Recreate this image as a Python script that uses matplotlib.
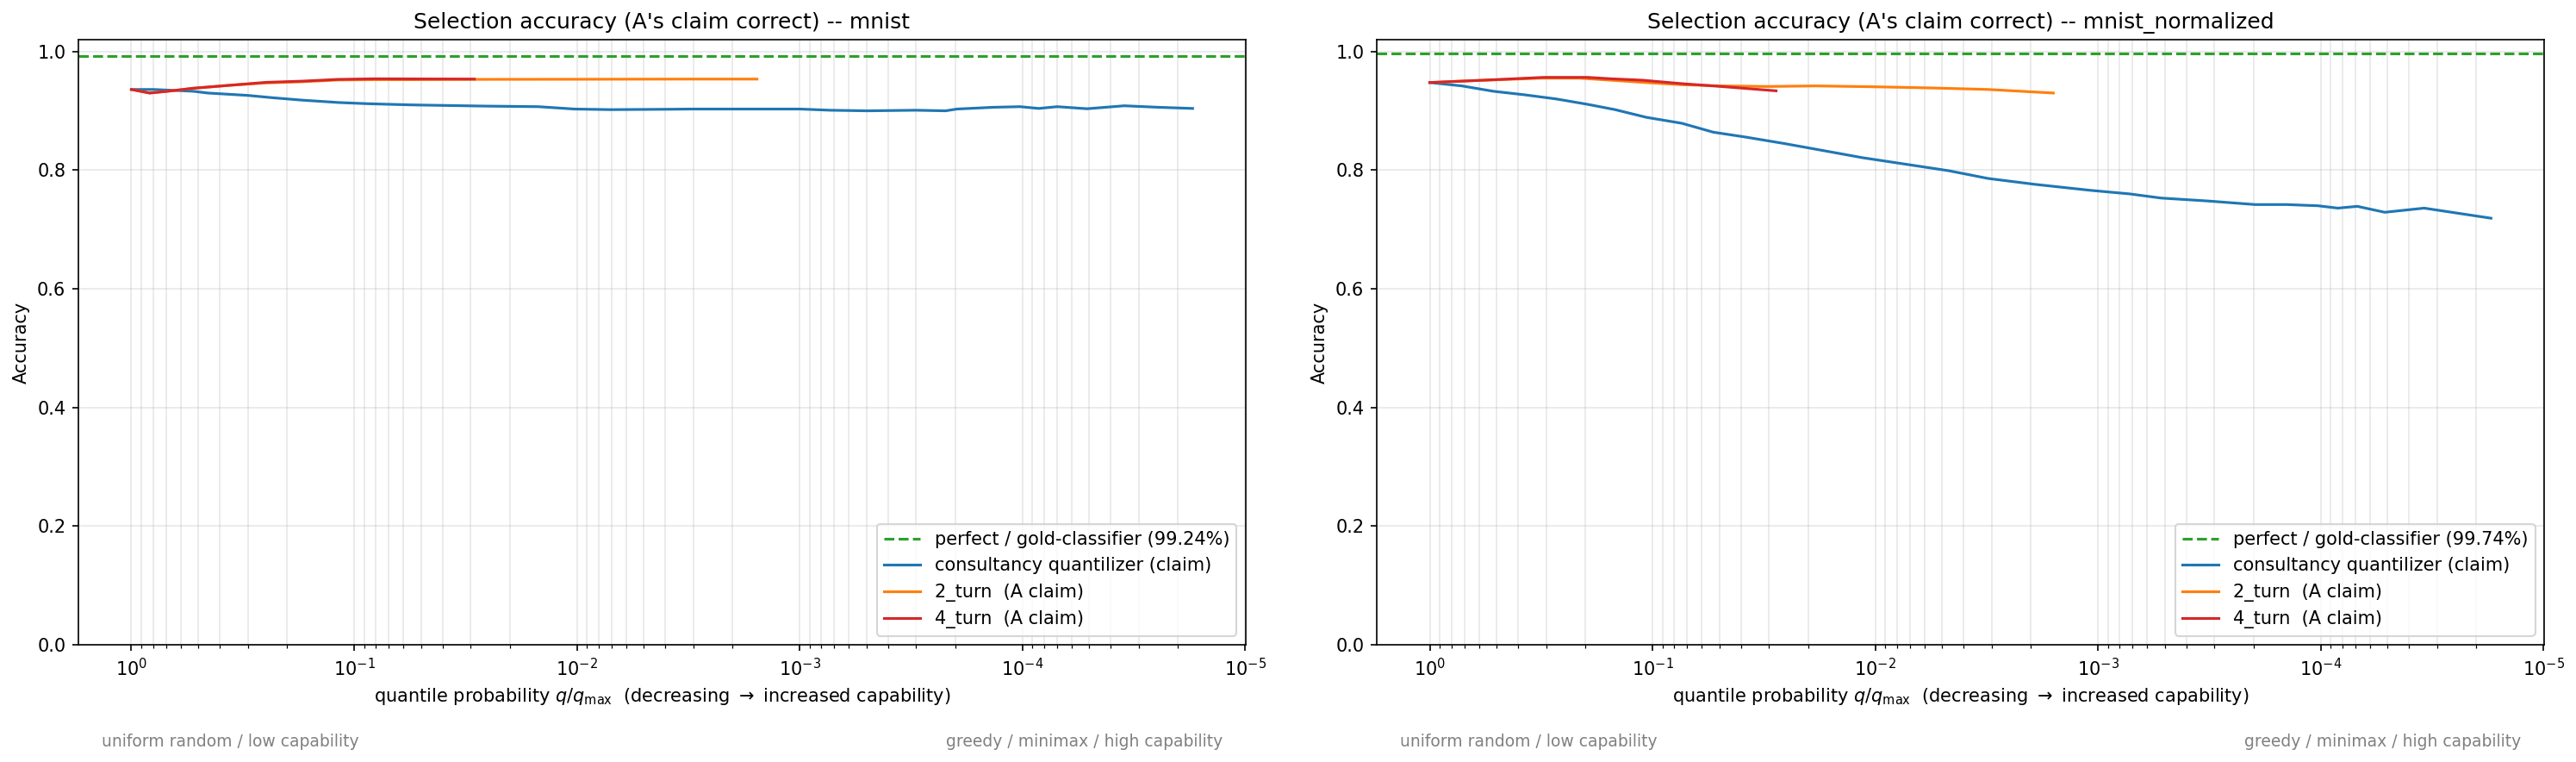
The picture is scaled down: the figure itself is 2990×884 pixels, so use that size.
import numpy as np
import matplotlib
matplotlib.use("Agg")
import matplotlib.pyplot as plt

# ---------------- data (x given as log10 of q/q_max) ----------------
titles = ["Selection accuracy (A's claim correct) -- mnist",
          "Selection accuracy (A's claim correct) -- mnist_normalized"]
gold_acc = [0.9924, 0.9974]

# panel 1 : mnist
p1_cons_logq = [0.0, -0.098, -0.277, -0.343, -0.522, -0.636, -0.767, -0.930, -1.060, -1.256,
                -1.582, -1.827, -1.990, -2.153, -2.435, -2.509, -2.702, -3.003, -3.137, -3.304,
                -3.522, -3.656, -3.706, -3.873, -3.990, -4.074, -4.157, -4.291, -4.458, -4.609, -4.765]
p1_cons_acc = [0.936, 0.936, 0.933, 0.930, 0.926, 0.922, 0.918, 0.914, 0.912, 0.910,
               0.908, 0.907, 0.903, 0.902, 0.9027, 0.903, 0.903, 0.903, 0.901, 0.900,
               0.901, 0.900, 0.903, 0.906, 0.907, 0.904, 0.907, 0.9035, 0.9085, 0.906, 0.904]
p1_t2_logq = [0.0, -0.082, -0.163, -0.277, -0.440, -0.604, -0.767, -0.930, -1.093, -1.256,
              -1.524, -2.000, -2.509, -2.809]
p1_t2_acc = [0.936, 0.930, 0.933, 0.938, 0.943, 0.947, 0.949, 0.952, 0.9525, 0.9525,
             0.953, 0.9532, 0.9535, 0.9535]
p1_t4_logq = [0.0, -0.082, -0.163, -0.277, -0.440, -0.604, -0.767, -0.930, -1.093, -1.256, -1.540]
p1_t4_acc = [0.936, 0.930, 0.933, 0.938, 0.943, 0.948, 0.950, 0.953, 0.954, 0.9538, 0.9535]

# panel 2 : mnist_normalized
p2_cons_logq = [0.0, -0.144, -0.285, -0.426, -0.568, -0.708, -0.832, -0.973, -1.132, -1.273,
                -1.414, -1.590, -1.767, -1.943, -2.155, -2.331, -2.507, -2.719, -2.966, -3.142,
                -3.283, -3.495, -3.706, -3.847, -3.988, -4.077, -4.165, -4.288, -4.465, -4.765]
p2_cons_acc = [0.9477, 0.942, 0.933, 0.927, 0.920, 0.911, 0.902, 0.889, 0.879, 0.864,
               0.856, 0.845, 0.833, 0.821, 0.809, 0.799, 0.786, 0.776, 0.766, 0.760,
               0.753, 0.748, 0.742, 0.742, 0.740, 0.736, 0.739, 0.729, 0.736, 0.719]
p2_t2_logq = [0.0, -0.179, -0.320, -0.497, -0.673, -0.814, -0.955, -1.132, -1.308, -1.520,
              -1.732, -2.013, -2.260, -2.507, -2.800]
p2_t2_acc = [0.9477, 0.9506, 0.9525, 0.955, 0.955, 0.9516, 0.948, 0.944, 0.942, 0.941,
             0.942, 0.9404, 0.9385, 0.936, 0.930]
p2_t4_logq = [0.0, -0.179, -0.320, -0.514, -0.708, -0.814, -0.955, -1.132, -1.308, -1.555]
p2_t4_acc = [0.9477, 0.9506, 0.953, 0.9564, 0.9564, 0.954, 0.9516, 0.9458, 0.941, 0.9337]

series = [
    (p1_cons_logq, p1_cons_acc, p1_t2_logq, p1_t2_acc, p1_t4_logq, p1_t4_acc),
    (p2_cons_logq, p2_cons_acc, p2_t2_logq, p2_t2_acc, p2_t4_logq, p2_t4_acc),
]

# ---------------- figure ----------------
fig = plt.figure(figsize=(2990 / 150, 884 / 150), dpi=150)
axes = fig.subplots(1, 2)
fig.subplots_adjust(left=0.0304, right=0.9876, top=0.948, bottom=0.1538, wspace=0.1122)

for ax, title, gold, (cq, ca, t2q, t2a, t4q, t4a) in zip(axes, titles, gold_acc, series):
    ax.axhline(gold, color="tab:green", ls="--", lw=1.5,
               label=f"perfect / gold-classifier ({gold*100:.2f}%)")
    ax.plot(10 ** np.array(cq), ca, color="tab:blue", lw=1.5,
            label="consultancy quantilizer (claim)")
    ax.plot(10 ** np.array(t2q), t2a, color="tab:orange", lw=1.5, label="2_turn  (A claim)")
    ax.plot(10 ** np.array(t4q), t4a, color="tab:red", lw=1.5, label="4_turn  (A claim)")
    ax.set_xscale("log")
    ax.invert_xaxis()
    ax.set_ylim(0, 1.02)
    ax.grid(True, which="both", alpha=0.3)
    ax.set_title(title, fontsize=12)
    ax.set_ylabel("Accuracy")
    ax.set_xlabel(r"quantile probability $q/q_{\max}$  (decreasing $\rightarrow$ increased capability)")
    ax.legend(loc="lower right", fontsize=10)
    ax.text(0.02, -0.16, "uniform random / low capability", transform=ax.transAxes,
            ha="left", va="center", fontsize=9, color="gray")
    ax.text(0.98, -0.16, "greedy / minimax / high capability", transform=ax.transAxes,
            ha="right", va="center", fontsize=9, color="gray")

fig.savefig("out.png", dpi=150)
